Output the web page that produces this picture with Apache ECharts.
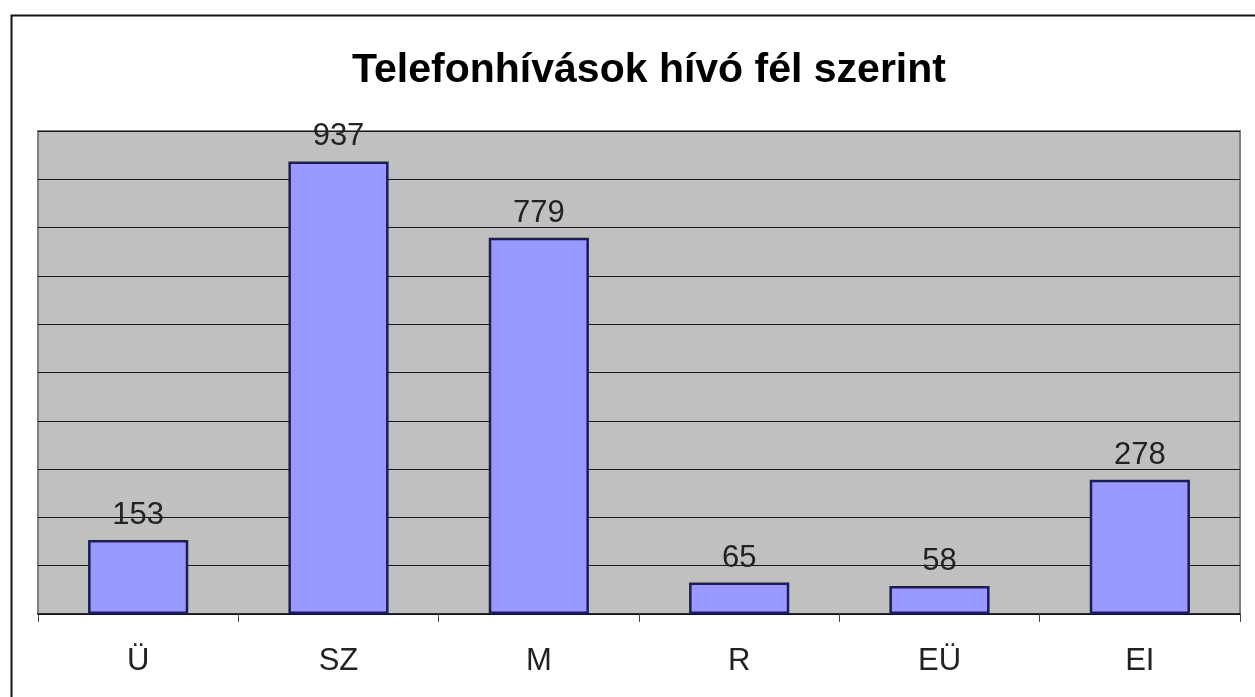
<!DOCTYPE html>
<html>
<head>
<meta charset="utf-8">
<title>Telefonhívások hívó fél szerint</title>
<script src="https://cdn.jsdelivr.net/npm/echarts@6/dist/echarts.min.js"></script>
<style>
    html, body { margin: 0; padding: 0; background: #fff; }
    #chart { width: 1255px; height: 697px; }
</style>
</head>
<body>
<div id="chart"></div>
<script>
// ======================
// DATA
// ======================

const titleText = 'Telefonhívások hívó fél szerint';
const categories = ['Ü', 'SZ', 'M', 'R', 'EÜ', 'EI'];
const calls = [153, 937, 779, 65, 58, 278];
const yMin = 0;
const yMax = 1000;
const yStep = 100;

// ======================
// CHART
// ======================

const font = "'Liberation Sans', Arial, sans-serif";
const chart = echarts.init(document.getElementById('chart'), null, { renderer: 'canvas' });

const option = {
    backgroundColor: '#ffffff',
    animation: false,
    title: {
        text: titleText,
        left: 644,
        top: 45,
        textAlign: 'center',
        textStyle: {
            fontFamily: font,
            fontSize: 41,
            fontWeight: 'bold',
            color: '#000'
        }
    },
    // 바깥 테두리 (오른쪽/아래는 화면 밖)
    graphic: [{
        type: 'rect',
        left: 9,
        top: 13,
        shape: { width: 1300, height: 720 },
        style: { fill: 'none', stroke: '#111', lineWidth: 2 },
        silent: true
    }],
    grid: {
        left: 38,
        right: 15,
        top: 131,
        bottom: 83,
        show: true,
        backgroundColor: '#c0c0c0',
        borderColor: '#808080',
        borderWidth: 2
    },
    xAxis: {
        type: 'category',
        data: categories,
        axisLine: { lineStyle: { color: '#111', width: 1.5 } },
        axisTick: {
            show: true,
            alignWithLabel: false,
            length: 8,
            lineStyle: { color: '#444', width: 1 }
        },
        axisLabel: {
            margin: 32,
            fontFamily: font,
            fontSize: 31,
            color: '#222'
        }
    },
    yAxis: {
        type: 'value',
        min: yMin,
        max: yMax,
        interval: yStep,
        axisLine: { show: false },
        axisTick: { show: false },
        axisLabel: { show: false },
        splitLine: { lineStyle: { color: '#1a1a1a', width: 1.2 } }
    },
    series: [{
        type: 'bar',
        data: calls,
        barWidth: '50%',
        itemStyle: {
            color: '#9999ff',
            borderColor: '#1c1c5a',
            borderWidth: 2.5
        },
        label: {
            show: true,
            position: 'top',
            distance: 9,
            fontFamily: font,
            fontSize: 31,
            color: '#222'
        }
    }]
};

chart.setOption(option);
</script>
</body>
</html>
